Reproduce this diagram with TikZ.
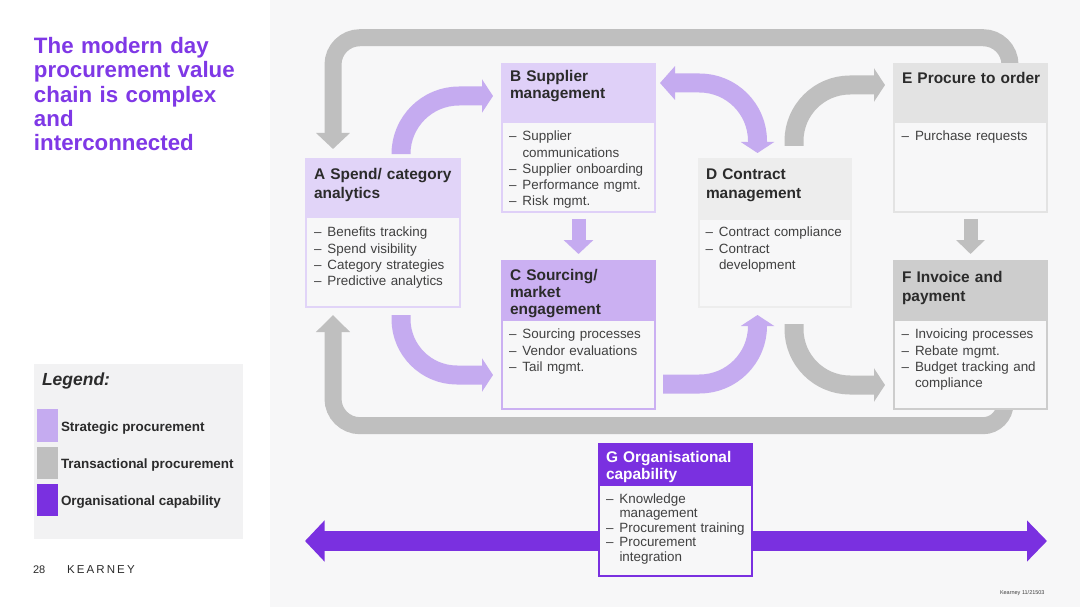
\documentclass[tikz,border=0pt]{standalone}
\usepackage{fontspec}
\setmainfont{Liberation Sans}
\newfontfamily\kfont[LetterSpace=18.5]{Liberation Sans}
\usetikzlibrary{arrows.meta}
\definecolor{pagebg}{HTML}{F7F7F8}
\definecolor{legbg}{HTML}{F2F2F3}
\definecolor{strat}{HTML}{C5ABF0}
\definecolor{trans}{HTML}{BFBFBF}
\definecolor{orgc}{HTML}{7A30E0}
\definecolor{titlec}{HTML}{7F38E6}
\definecolor{headA}{HTML}{E1D4F8}
\definecolor{headB}{HTML}{DFD0F8}
\definecolor{headC}{HTML}{CBB0F2}
\definecolor{headD}{HTML}{EDEDED}
\definecolor{headE}{HTML}{E3E3E3}
\definecolor{headF}{HTML}{CDCDCD}
\definecolor{txtb}{HTML}{404040}
\definecolor{txth}{HTML}{2B2B2B}
\newcommand{\itm}[1]{\par\hangindent=13.5pt\hangafter=1\noindent\rule{0pt}{11pt}\makebox[13.5pt][l]{–}#1\par}
\newcommand{\hrl}{\rule{0pt}{12pt}}
\newcommand{\pblock}[7]{%
  \node[boxouter,fill=#7,minimum width={#4-#2},minimum height={#5-#3}] (#1) at ({(#2+#4)/2},{(#3+#5)/2}) {};
  \node[boxouter,fill=pagebg,minimum width={#4-#2-4.5},minimum height={#5-#6-2.2}] (#1body) at ({(#2+#4)/2},{(#6+#5-2.2)/2}) {};
  \node[boxouter,fill=#7,minimum width={#4-#2},minimum height={#6-#3}] (#1head) at ({(#2+#4)/2},{(#3+#6)/2}) {};
}
\tikzset{
  boxouter/.style={rectangle,draw=none,inner sep=0pt,outer sep=0pt},
  hd/.style={anchor=north west,inner sep=0pt,outer sep=0pt,text width=148pt,align=left,text=txth,font=\bfseries\fontsize{15.45}{#1}\selectfont},
  hd/.default=17,
  bd/.style={anchor=north west,inner sep=0pt,outer sep=0pt,text width=148pt,align=left,text=txtb,font=\fontsize{13.4}{#1}\selectfont},
  bd/.default=16.2,
  lab/.style={anchor=base west,inner sep=0pt,outer sep=0pt},
  blockS/.style={line width=19pt,draw=strat},
  blockT/.style={line width=19pt,draw=trans},
  tipW/.style={-{Triangle[length=11pt,width=33pt]}},
  swatch/.style={rectangle,inner sep=0pt,outer sep=0pt,minimum width=21pt,minimum height=32.5pt}
}
\begin{document}
\begin{tikzpicture}[x=1pt,y=-1pt]
\useasboundingbox (0,0) rectangle (1080,607);
\fill[white] (0,0) rectangle (270,607);
\fill[pagebg] (270,0) rectangle (1080,607);

% boxes are placed first as named nodes on the page; loops start beneath them
\coordinate (loopTop) at (700,37.7);
\coordinate (loopBot) at (700,425.7);
\node[boxouter,minimum width=155,minimum height=150] (Apos) at (383,233) {};
\node[boxouter,minimum width=155,minimum height=150] (Epos) at (970.5,138) {};
\node[boxouter,minimum width=155,minimum height=150] (Fpos) at (970.5,335) {};

\draw[line width=17pt,draw=trans,-{Triangle[length=16pt,width=33pt]},rounded corners=27pt]
  ([shift={(39.5,12)}]Epos.north) |- (loopTop) -| ([shift={(-50,-9)}]Apos.north);
\draw[line width=17pt,draw=trans,-{Triangle[length=17pt,width=33pt]}]
  ([shift={(34.5,-12)}]Fpos.south) [rounded corners=22pt] |- (loopBot) [rounded corners=27pt] -| ([shift={(-50,7)}]Apos.south);

% boxes
\pblock{A}{305}{158}{461}{308}{218}{headA}
\pblock{B}{501}{63}{656}{213}{123}{headB}
\pblock{C}{501}{260}{656}{410}{321}{headC}
\pblock{D}{698}{158}{852}{308}{220}{headD}
\pblock{E}{893}{63}{1048}{213}{123}{headE}
\pblock{F}{893}{260}{1048}{410}{321}{headF}

% purple capability arrows (drawn before G)
\node[boxouter,minimum width=155,minimum height=134] (Gpos) at (675.5,510) {};
\coordinate (leftTip) at (305,541);
\coordinate (rightTip) at (1047,541);
\draw[line width=20.5pt,draw=orgc,-{Triangle[length=19.5pt,width=40pt]}] (Gpos.west |- leftTip) -- (leftTip);
\draw[line width=20.5pt,draw=orgc,-{Triangle[length=20pt,width=40pt]}] (Gpos.east |- rightTip) -- (rightTip);
\pblock{G}{598}{443}{753}{577}{486}{orgc}

% connectors
\draw[blockS,tipW,rounded corners=58pt] ([shift={(18,-5)}]A.north) |- ([shift={(-8,-42)}]B.west);
\draw[blockS,tipW,rounded corners=56pt] ([shift={(18,7)}]A.south) |- ([shift={(-8,40)}]C.west);
\draw[blockS,{Triangle[length=15pt,width=33pt]}-{Triangle[length=11pt,width=33pt]},rounded corners=58pt]
  ([shift={(4,-55)}]B.east) -| ([shift={(-17.5,-5)}]D.north);
\draw[blockS,tipW,rounded corners=58pt] ([shift={(7,49)}]C.east) -| ([shift={(-17.5,7)}]D.south);
\draw[blockT,tipW,rounded corners=56pt] ([shift={(19,-12)}]D.north) |- ([shift={(-8,-53)}]E.west);
\draw[blockT,tipW,rounded corners=56pt] ([shift={(19,16)}]D.south) |- ([shift={(-8,50)}]F.west);
\draw[line width=14pt,draw=strat,-{Triangle[length=14pt,width=29pt]}] ([yshift=-6pt]B.south) -- ([yshift=6pt]C.north);
\draw[line width=14pt,draw=trans,-{Triangle[length=14pt,width=28pt]}] ([yshift=-6pt]E.south) -- ([yshift=6pt]F.north);

% box texts
\node[hd=18.5] (Atitle) at (314,168) {\hrl A Spend/ category\\analytics};
\node[hd] (Btitle) at (510,70) {\hrl B Supplier\\management};
\node[hd] (Ctitle) at (510,268) {\hrl C Sourcing/\\market\\engagement};
\node[hd=18.5] (Dtitle) at (706,168) {\hrl D Contract\\management};
\node[hd] (Etitle) at (902,71.5) {\hrl E Procure to order};
\node[hd=19] (Ftitle) at (902,270) {\hrl F Invoice and\\payment};
\node[hd,text=white] (Gtitle) at (606,450.5) {\hrl G Organisational\\capability};

\node[bd] (Atext) at (314,220.8) {\itm{Benefits tracking}\itm{Spend visibility}\itm{Category strategies}\itm{Predictive analytics}};
\node[bd] (Btext) at (509,124.8) {\itm{Supplier\newline communications}\itm{Supplier onboarding}\itm{Performance mgmt.}\itm{Risk mgmt.}};
\node[bd] (Ctext) at (509,322.8) {\itm{Sourcing processes}\itm{Vendor evaluations}\itm{Tail mgmt.}};
\node[bd] (Dtext) at (705.5,220.8) {\itm{Contract compliance}\itm{Contract\newline development}};
\node[bd] (Etext) at (901.5,124.8) {\itm{Purchase requests}};
\node[bd] (Ftext) at (901.5,322.8) {\itm{Invoicing processes}\itm{Rebate mgmt.}\itm{Budget tracking and\newline compliance}};
\node[bd=14.5] (Gtext) at (606,488.5) {\itm{Knowledge\newline management}\itm{Procurement training}\itm{Procurement\newline integration}};

% left panel
\node[anchor=north west,inner sep=0pt,outer sep=0pt,text width=225pt,align=left,text=titlec,font=\bfseries\fontsize{22.3}{24.3}\selectfont] (title) at (34,35.5)
  {\rule{0pt}{18pt}The modern day\\procurement value\\chain is complex\\and\\interconnected};
\node[boxouter,fill=legbg,minimum width=209,minimum height=174.5] (legend) at (138.5,451.25) {};
\node[lab,font=\bfseries\itshape\fontsize{17.5}{20}\selectfont,text=txth] (legendhd) at (42,385) {Legend:};
\node[swatch,fill=strat] (sw1) at (47.5,425.5) {};
\node[swatch,fill=trans] (sw2) at (47.5,463) {};
\node[swatch,fill=orgc] (sw3) at (47.5,500) {};
\node[lab,font=\bfseries\fontsize{13.45}{16}\selectfont,text=txth] (lb1) at (61,431) {Strategic procurement};
\node[lab,font=\bfseries\fontsize{13.45}{16}\selectfont,text=txth] (lb2) at (61,468) {Transactional procurement};
\node[lab,font=\bfseries\fontsize{13.45}{16}\selectfont,text=txth] (lb3) at (61,505) {Organisational capability};
\node[lab,font=\fontsize{11}{13}\selectfont,text=txth] (pageno) at (33,573) {28};
\node[lab,font=\fontsize{11.5}{13}\selectfont\kfont,text=txth] (brand) at (67,573) {KEARNEY};
\node[lab,font=\fontsize{5.5}{7}\selectfont,text=txtb] (foot) at (1000,594) {Kearney 11/21503};
\end{tikzpicture}
\end{document}
